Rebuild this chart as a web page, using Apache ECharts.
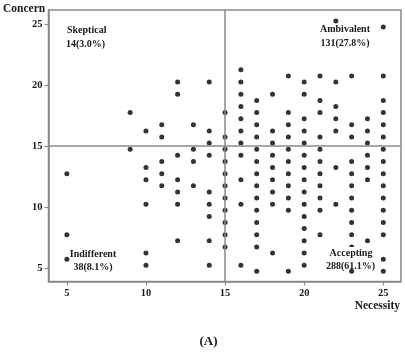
<!DOCTYPE html>
<html>
<head>
<meta charset="utf-8">
<script src="https://cdn.jsdelivr.net/npm/echarts@6/dist/echarts.min.js"></script>
<style>
html,body{margin:0;padding:0;background:#fff;}
#chart{width:405px;height:357px;}
</style>
</head>
<body>
<div id="chart"></div>
<script>
// Necessity score levels (x) and the Concern scores (y) observed at each level
const necessityLevels = [5, 9, 10, 11, 12, 13, 14, 15, 16, 17, 18, 19, 20, 21, 22, 23, 24, 25];
const concernAt5  = [12.75, 7.75, 5.75];
const concernAt9  = [17.75, 14.75];
const concernAt10 = [16.25, 13.25, 12.25, 10.25, 6.25, 5.25];
const concernAt11 = [16.75, 15.75, 13.75, 12.75, 11.75];
const concernAt12 = [20.25, 19.25, 14.25, 12.25, 11.25, 10.25, 7.25];
const concernAt13 = [16.75, 14.75, 13.75, 11.75];
const concernAt14 = [20.25, 16.25, 15.25, 14.25, 11.25, 10.25, 9.25, 7.25, 5.25];
const concernAt15 = [17.75, 15.75, 14.75, 13.75, 12.75, 11.75, 10.75, 9.75, 8.75, 7.75, 6.75];
const concernAt16 = [21.25, 20.25, 19.25, 18.25, 17.25, 16.25, 15.25, 14.25, 12.25, 10.25, 5.25];
const concernAt17 = [18.75, 17.75, 16.75, 15.75, 14.75, 13.75, 12.75, 11.75, 10.75, 9.75, 8.75, 7.75, 6.75, 4.75];
const concernAt18 = [19.25, 16.25, 15.25, 14.25, 13.25, 12.25, 11.25, 10.25, 6.25];
const concernAt19 = [20.75, 17.75, 16.75, 15.75, 14.75, 13.75, 12.75, 11.75, 10.75, 9.75, 4.75];
const concernAt20 = [20.25, 19.25, 17.25, 16.25, 15.25, 14.25, 13.25, 12.25, 11.25, 10.25, 9.25, 8.25, 7.25, 6.25, 5.25];
const concernAt21 = [20.75, 18.75, 17.75, 15.75, 14.75, 13.75, 12.75, 11.75, 10.75, 9.75, 7.75];
const concernAt22 = [25.25, 20.25, 18.25, 17.25, 16.25, 13.25, 10.25];
const concernAt23 = [20.75, 16.75, 15.75, 13.75, 12.75, 11.75, 10.75, 9.75, 8.75, 7.75, 6.75, 4.75];
const concernAt24 = [17.25, 16.25, 15.25, 14.25, 13.25, 12.25, 7.25];
const concernAt25 = [24.75, 20.75, 18.75, 17.75, 16.75, 15.75, 14.75, 13.75, 12.75, 11.75, 10.75, 9.75, 8.75, 7.75, 5.75, 4.75];
const concernByLevel = [concernAt5, concernAt9, concernAt10, concernAt11, concernAt12, concernAt13, concernAt14,
  concernAt15, concernAt16, concernAt17, concernAt18, concernAt19, concernAt20, concernAt21, concernAt22,
  concernAt23, concernAt24, concernAt25];

const xTicks = [5, 10, 15, 20, 25];
const yTicks = [5, 10, 15, 20, 25];
const cutNecessity = 15;
const cutConcern = 15;
const xAxisName = 'Necessity';
const yAxisName = 'Concern';
const quadrantLabels = {
  skeptical: ['Skeptical', '14(3.0%)'],
  ambivalent: ['Ambivalent', '131(27.8%)'],
  indifferent: ['Indifferent', '38(8.1%)'],
  accepting: ['Accepting', '288(61.1%)']
};
const panelLabel = '(A)';

const points = [];
necessityLevels.forEach((x, i) => {
  concernByLevel[i].forEach(y => points.push([x, y]));
});

const SERIF = '"Liberation Serif", "Times New Roman", serif';
const GRAY = '#8a8a8a';
const TXT = '#1a1a1a';

const chart = echarts.init(document.getElementById('chart'), null, {renderer: 'canvas'});

function txt(text, x, y, align, size, extra) {
  return {
    type: 'text', z: 100,
    style: Object.assign({
      text: text, x: x, y: y, textAlign: align, textVerticalAlign: 'middle',
      font: 'bold ' + size + 'px ' + SERIF, fill: TXT
    }, extra || {})
  };
}

const option = {
  animation: false,
  backgroundColor: '#fff',
  grid: {left: 48.5, top: 10, right: 4, bottom: 75.5, show: true, borderColor: GRAY, borderWidth: 1.5},
  xAxis: {
    type: 'value', min: 3.84, max: 26.12,
    axisLine: {show: true, lineStyle: {color: GRAY, width: 1.5}},
    axisTick: {show: true, length: 4, customValues: xTicks, lineStyle: {color: GRAY, width: 1.2}},
    axisLabel: {customValues: xTicks, fontFamily: SERIF, fontWeight: 'bold', fontSize: 10.5, color: TXT, margin: 6},
    splitLine: {show: false}
  },
  yAxis: {
    type: 'value', min: 3.92, max: 26.15,
    axisLine: {show: true, lineStyle: {color: GRAY, width: 1.5}},
    axisTick: {show: true, length: 4, customValues: yTicks, lineStyle: {color: GRAY, width: 1.2}},
    axisLabel: {customValues: yTicks, fontFamily: SERIF, fontWeight: 'bold', fontSize: 10.5, color: TXT, margin: 6},
    splitLine: {show: false}
  },
  series: [{
    type: 'scatter',
    data: points,
    symbol: 'circle',
    symbolSize: 5,
    itemStyle: {color: '#000'},
    z: 3,
    markLine: {
      silent: true, symbol: 'none', animation: false,
      label: {show: false},
      lineStyle: {color: GRAY, width: 1.5, type: 'solid'},
      data: [{xAxis: cutNecessity}, {yAxis: cutConcern}]
    }
  }],
  graphic: [
    txt(yAxisName, 3, 9.5, 'left', 11.5),
    txt(xAxisName, 400, 306, 'right', 11.5),
    txt(quadrantLabels.skeptical[0], 67, 30.5, 'left', 10),
    txt(quadrantLabels.skeptical[1], 66, 44, 'left', 10),
    txt(quadrantLabels.ambivalent[0], 345, 29.5, 'center', 10),
    txt(quadrantLabels.ambivalent[1], 345, 43, 'center', 10),
    txt(quadrantLabels.indifferent[0], 93, 254, 'center', 10),
    txt(quadrantLabels.indifferent[1], 93, 267, 'center', 10),
    {type: 'rect', z: 99, shape: {x: 326, y: 247, width: 50, height: 21}, style: {fill: '#fff'}},
    txt(quadrantLabels.accepting[0], 351, 253, 'center', 10),
    txt(quadrantLabels.accepting[1], 350.5, 266, 'center', 10),
    txt(panelLabel, 208.5, 342, 'center', 13)
  ]
};
chart.setOption(option);
</script>
</body>
</html>
